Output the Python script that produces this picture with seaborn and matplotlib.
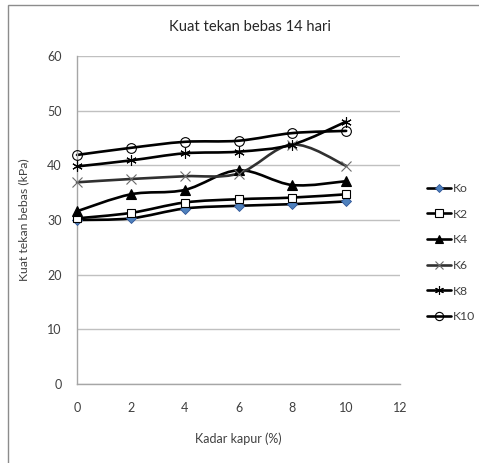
import numpy as np
import pandas as pd
import matplotlib
matplotlib.use("Agg")
import matplotlib.pyplot as plt
from matplotlib.path import Path
from matplotlib.patches import PathPatch, Rectangle
from matplotlib.lines import Line2D
import seaborn as sns

# Unconfined compressive strength after 14 days of curing
kadar_kapur = [0, 2, 4, 6, 8, 10]
series_names = ["Ko", "K2", "K4", "K6", "K8", "K10"]
ko = [30.0, 30.3, 32.1, 32.6, 32.9, 33.4]
k2 = [30.3, 31.3, 33.2, 33.8, 34.1, 34.7]
k4 = [31.6, 34.7, 35.5, 39.1, 36.4, 37.1]
k6 = [36.9, 37.5, 38.0, 38.5, 43.8, 39.9]
k8 = [39.8, 40.9, 42.2, 42.5, 43.8, 48.0]
k10 = [41.9, 43.2, 44.3, 44.5, 45.9, 46.3]
x_ticks = [0, 2, 4, 6, 8, 10, 12]
y_ticks = [0, 10, 20, 30, 40, 50, 60]

df = pd.DataFrame({
    "kadar": kadar_kapur * len(series_names),
    "kuat": ko + k2 + k4 + k6 + k8 + k10,
    "seri": [n for n in series_names for _ in kadar_kapur],
})

styles = {
    "Ko": dict(marker="D", ms=5.0, mfc="#4F81BD", mec="#2F5597", mew=0.6, line="#000000"),
    "K2": dict(marker="s", ms=6.0, mfc="white", mec="#000000", mew=0.8, line="#000000"),
    "K4": dict(marker="^", ms=6.5, mfc="#000000", mec="#000000", mew=0.8, line="#000000"),
    "K6": dict(marker="x", ms=7.0, mfc="none", mec="#6a6a6a", mew=0.8, line="#303030"),
    "K8": dict(marker=(6, 2, 0), ms=7.5, mfc="none", mec="#000000", mew=0.8, line="#000000"),
    "K10": dict(marker="o", ms=7.0, mfc="none", mec="#000000", mew=0.8, line="#000000"),
}

sns.set_style("white")
plt.rcParams["font.family"] = ["Lato", "DejaVu Sans"]

W, H = 479, 463
fig = plt.figure(figsize=(W / 100, H / 100), dpi=100)
fig.patch.set_facecolor("white")

# chart frame (runs off the right and bottom edges)
fig.patches.append(Rectangle((8 / W, -0.1), 1.2, 1 - 5 / H + 0.1,
                             transform=fig.transFigure, fill=False,
                             edgecolor="#8c8c8c", linewidth=1.0))

ax = fig.add_axes([77 / W, 1 - 384 / H, 323 / W, 328 / H])


def smooth_path(xs, ys):
    """Cubic Bezier path through the points (Catmull-Rom style smoothing)."""
    pts = np.column_stack([xs, ys]).astype(float)
    verts = [pts[0]]
    codes = [Path.MOVETO]
    n = len(pts)
    for i in range(n - 1):
        p0 = pts[i - 1] if i > 0 else pts[i]
        p1 = pts[i]
        p2 = pts[i + 1]
        p3 = pts[i + 2] if i + 2 < n else pts[i + 1]
        c1 = p1 + (p2 - p0) / 6.0
        c2 = p2 - (p3 - p1) / 6.0
        verts += [c1, c2, p2]
        codes += [Path.CURVE4] * 3
    return Path(verts, codes)


for name in series_names:
    st = styles[name]
    sub = df[df["seri"] == name]
    ax.add_patch(PathPatch(smooth_path(sub["kadar"], sub["kuat"]), fill=False,
                           edgecolor=st["line"], linewidth=1.9, zorder=2,
                           capstyle="round", joinstyle="round", clip_on=False))
    sns.lineplot(data=sub, x="kadar", y="kuat", ax=ax, lw=0, color=st["line"],
                 marker=st["marker"], ms=st["ms"], mfc=st["mfc"], mec=st["mec"],
                 mew=st["mew"], legend=False, zorder=3, clip_on=False)

ax.set_xlim(0, 12)
ax.set_ylim(0, 60)
ax.set_xticks(x_ticks)
ax.set_yticks(y_ticks)
ax.set_xticklabels([str(t) for t in x_ticks])
ax.set_yticklabels([str(t) for t in y_ticks])
ax.tick_params(axis="both", length=0, labelsize=9, colors="#404040")
ax.tick_params(axis="x", pad=13)
ax.tick_params(axis="y", pad=11)
ax.yaxis.grid(True, color="#c0c0c0", linewidth=1.0)
ax.set_axisbelow(True)
for side in ("top", "right"):
    ax.spines[side].set_visible(False)
for side in ("left", "bottom"):
    ax.spines[side].set_color("#a6a6a6")
    ax.spines[side].set_linewidth(1.0)

ax.set_xlabel("Kadar kapur (%)", fontsize=9, color="#404040", labelpad=13)
ax.set_ylabel("Kuat tekan bebas (kPa)", fontsize=8.8, color="#404040", labelpad=13)
fig.text(250 / W, 1 - 27 / H, "Kuat tekan bebas 14 hari", ha="center",
         va="center", fontsize=10.6, color="#262626")

handles = [Line2D([], [], color=styles[n]["line"], lw=1.9,
                  marker=styles[n]["marker"], ms=styles[n]["ms"] * 0.85,
                  mfc=styles[n]["mfc"], mec=styles[n]["mec"], mew=styles[n]["mew"])
           for n in series_names]
fig.legend(handles, series_names, loc="upper left",
           bbox_to_anchor=(416 / W, 1 - 172 / H), frameon=False,
           fontsize=8.8, handlelength=2.0, handletextpad=0.1,
           labelspacing=1.2, labelcolor="#404040")

fig.savefig("out.png", dpi=100, facecolor="white")
